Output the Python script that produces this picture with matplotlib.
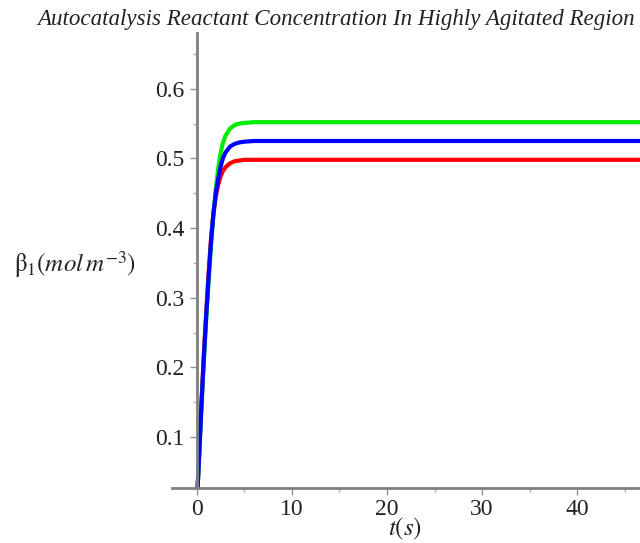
import matplotlib.pyplot as plt

plt.rcParams["mathtext.fontset"] = "stix"

# time samples (s)
t = [0, 0.25, 0.5, 0.75, 1, 1.25, 1.5, 1.75, 2, 2.25, 2.5, 2.75, 3,
     3.5, 4, 4.5, 5, 6, 7, 8, 10, 50]

beta_red = [0, 0.075, 0.15, 0.22, 0.28, 0.335, 0.385, 0.42, 0.445, 0.462,
            0.474, 0.482, 0.487, 0.493, 0.496, 0.497, 0.498, 0.498, 0.498,
            0.498, 0.498, 0.498]
beta_green = [0, 0.071, 0.144, 0.21, 0.27, 0.325, 0.375, 0.42, 0.455, 0.485,
              0.507, 0.522, 0.532, 0.543, 0.548, 0.55, 0.551, 0.552, 0.552,
              0.552, 0.552, 0.552]
beta_blue = [0, 0.073, 0.147, 0.215, 0.275, 0.33, 0.38, 0.42, 0.45, 0.47,
             0.488, 0.5, 0.508, 0.517, 0.521, 0.523, 0.524, 0.525, 0.525,
             0.525, 0.525, 0.525]

x_ticks = [0, 10, 20, 30, 40]
y_ticks = [0.1, 0.2, 0.3, 0.4, 0.5, 0.6]

fig = plt.figure(figsize=(6.4, 5.43), dpi=100)
ax = fig.add_axes([172 / 640, 1 - 488 / 543, 468 / 640, 455 / 543])

ax.plot(t, beta_red, color="#ff0000", lw=3, solid_capstyle="butt")
ax.plot(t, beta_green, color="#00ee00", lw=3, solid_capstyle="butt")
ax.plot(t, beta_blue, color="#0000ff", lw=3, solid_capstyle="butt")

ax.set_xlim(-2.6, 46.6)
ax.set_ylim(0.027, 0.68)

for side in ["top", "right"]:
    ax.spines[side].set_visible(False)
ax.spines["left"].set_position(("data", 0))
ax.spines["left"].set_color("#808080")
ax.spines["left"].set_linewidth(2)
ax.spines["bottom"].set_color("#808080")
ax.spines["bottom"].set_linewidth(2)

ax.set_xticks(x_ticks)
ax.set_xticks([5, 15, 25, 35, 45], minor=True)
ax.set_yticks(y_ticks)
ax.set_yticks([0.15, 0.25, 0.35, 0.45, 0.55, 0.65], minor=True)
ax.set_xticklabels([str(v) for v in x_ticks])
ax.set_yticklabels([f"{v:.1f}" for v in y_ticks])
ax.tick_params(axis="both", which="major", length=5, width=1, color="#909090",
               labelsize=17, labelcolor="#222222")
ax.tick_params(axis="both", which="minor", length=3, width=1, color="#b0b0b0")
ax.tick_params(axis="x", pad=3)
ax.tick_params(axis="y", pad=4)
for lab in ax.get_xticklabels() + ax.get_yticklabels():
    lab.set_family("Liberation Serif")

fig.text(336 / 640, 1 - 19 / 543, "Autocatalysis Reactant Concentration In Highly Agitated Region",
         ha="center", va="center", family="Liberation Serif", style="italic",
         fontsize=16.6, color="#222222")
fig.text(405 / 640, 1 - 529 / 543, r"$t(s)$", ha="center", va="center",
         fontsize=18, color="#222222")
fig.text(14 / 640, 1 - 265 / 543, r"$\mathrm{\beta}_{1}(mol\,m^{-3})$",
         ha="left", va="center", fontsize=18, color="#222222")

fig.savefig("out.png", dpi=100)
